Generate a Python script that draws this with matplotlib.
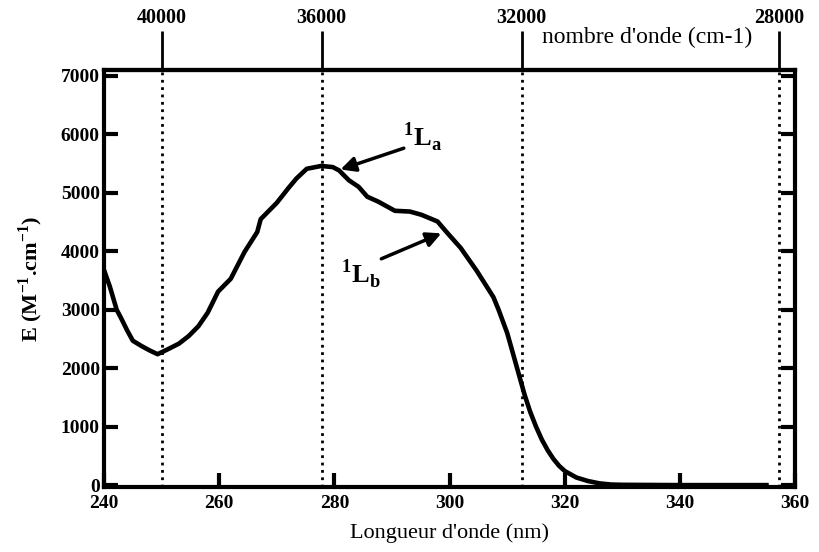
import numpy as np
import matplotlib
matplotlib.use("Agg")
import matplotlib.pyplot as plt

plt.rcParams['font.family'] = ['Liberation Serif', 'DejaVu Serif']
plt.rcParams['mathtext.fontset'] = 'custom'
plt.rcParams['mathtext.rm'] = 'Liberation Serif'
plt.rcParams['mathtext.bf'] = 'Liberation Serif:bold'

# absorption spectrum
wavelength = [240, 241, 242.2, 243, 244, 245, 246.5, 248, 249.3, 251, 253, 254.7,
              256.4, 258, 259.8, 262, 264.4, 266.6, 267.2, 270, 272, 273.4, 275.2,
              277.7, 279.7, 280.8, 282.5, 284.2, 285.7, 287.6, 290.5, 293.1, 295.1,
              297.9, 299.6, 301.9, 304.7, 307.6, 308.5, 310, 311, 312, 313, 314,
              315, 316, 317, 318, 319, 320, 322, 324, 326, 328, 330, 340, 355]
epsilon = [3680, 3400, 3000, 2850, 2650, 2470, 2380, 2300, 2240, 2320, 2420, 2550,
           2720, 2950, 3310, 3530, 3990, 4330, 4550, 4830, 5080, 5245, 5412,
           5460, 5441, 5385, 5216, 5103, 4934, 4850, 4693, 4680, 4625,
           4510, 4314, 4060, 3667, 3216, 3000, 2600, 2250, 1900, 1550, 1250,
           1000, 780, 600, 450, 330, 240, 130, 70, 30, 10, 5, 0, 0]

wavenumbers = [40000, 36000, 32000, 28000]
xticks = [240, 260, 280, 300, 320, 340, 360]
yticks = [0, 1000, 2000, 3000, 4000, 5000, 6000, 7000]

fig = plt.figure(figsize=(8.19, 5.52), dpi=100)
ax = fig.add_axes([0.127, 0.118, 0.844, 0.755])

ax.plot(wavelength, epsilon, color='black', lw=3.3, solid_joinstyle='round')

for k in wavenumbers:
    ax.axvline(1e7 / k, color='black', ls=':', lw=2)

ax.set_xlim(240, 360)
ax.set_ylim(-30, 7100)
ax.set_xticks(xticks)
ax.set_yticks(yticks)
ax.tick_params(direction='in', length=10, width=3, top=False, right=True,
               labelsize=14, pad=3)
ax.tick_params(axis='x', pad=6)
for lab in ax.get_xticklabels() + ax.get_yticklabels():
    lab.set_fontweight('bold')
for s in ax.spines.values():
    s.set_linewidth(3)

ax.set_xlabel("Longueur d'onde (nm)", fontsize=16, labelpad=8)
ax.set_ylabel(r"E (M$^{\mathbf{-1}}$.cm$^{\mathbf{-1}}$)", fontsize=16,
              fontweight='bold', labelpad=11)

top = ax.secondary_xaxis('top', functions=(lambda x: 1e7 / x, lambda k: 1e7 / k))
top.set_xticks(wavenumbers)
top.tick_params(direction='out', length=28, width=2, labelsize=14.5, pad=2)
for lab in top.get_xticklabels():
    lab.set_fontweight('bold')
top.spines['top'].set_linewidth(3)
ax.text(0.785, 1.078, "nombre d'onde (cm-1)", transform=ax.transAxes,
        ha='center', va='center', fontsize=17)

ax.annotate('', xy=(280.6, 5385), xytext=(292.5, 5779),
            arrowprops=dict(arrowstyle='-|>', color='black', lw=2.5,
                            mutation_scale=22))
ax.text(295.3, 5800, r"$^{\mathbf{1}}\mathbf{L}_{\mathbf{a}}$", fontsize=19,
        ha='center', va='baseline')
ax.annotate('', xy=(299.0, 4326), xytext=(287.7, 3853),
            arrowprops=dict(arrowstyle='-|>', color='black', lw=2.5,
                            mutation_scale=22))
ax.text(284.5, 3600, r"$^{\mathbf{1}}\mathbf{L}_{\mathbf{b}}$", fontsize=19,
        ha='center', va='center')

fig.savefig('out.png', dpi=100)
